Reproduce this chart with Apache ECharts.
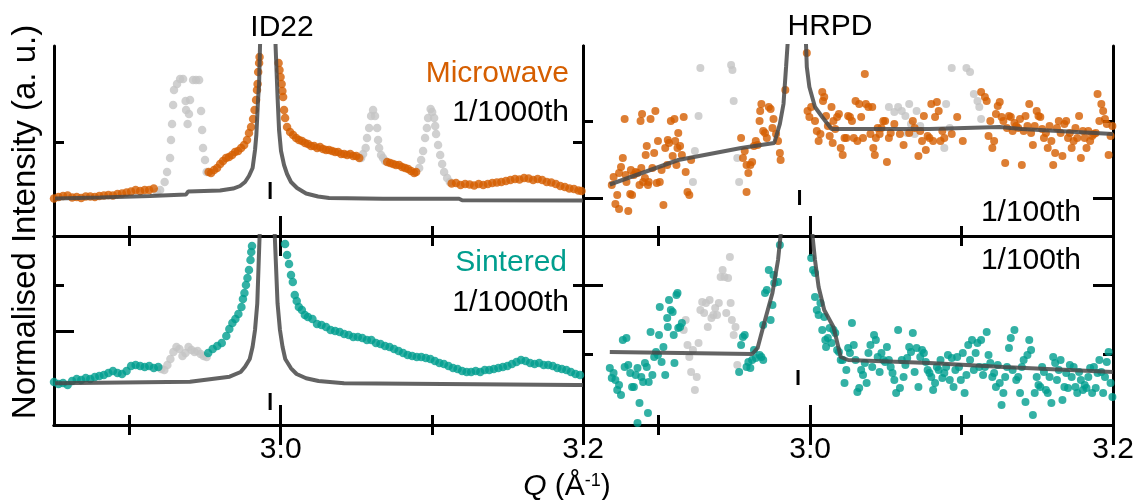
<!DOCTYPE html>
<html><head><meta charset="utf-8">
<script src="https://cdn.jsdelivr.net/npm/echarts@6/dist/echarts.min.js"></script>
<style>html,body{margin:0;padding:0;background:#fff}#c{width:1138px;height:500px}</style>
</head><body><div id="c"></div>
<script>
// ---------------- data ----------------
const Q_MIN = 2.85, Q_MAX = 3.2;
const xLabelTicks = [3.0, 3.2];
const xMajorTicks = [3.0, 3.2];
const xMinorTicks = [2.9, 3.1];

// ID22 – Microwave (top-left)
const mwID22 = [[2.850,3.75],[2.853,3.9],[2.856,4.0],[2.859,4.05],[2.862,3.85],[2.865,3.9],[2.868,3.8],[2.871,3.95],[2.874,3.95],[2.877,3.9],[2.880,4.0],[2.883,4.05],[2.886,4.1],[2.889,4.05],[2.892,4.2],[2.895,4.25],[2.898,4.35],[2.901,4.45],[2.904,4.6],[2.907,4.5],[2.910,4.6],[2.913,4.6],[2.916,4.75],
[2.9523,6.4],[2.9539,6.3],[2.9559,6.6],[2.9579,6.8],[2.9599,7.2],[2.9618,7.5],[2.9638,7.8],[2.9658,7.9],[2.9678,8.1],[2.9698,8.4],[2.9718,8.5],[2.9738,8.8],[2.9758,9.1],[2.9777,9.6],[2.979,10.3],[2.9804,10.9],[2.9817,11.7],[2.9827,12.6],[2.9837,13.6],[2.9843,14.6],[2.9847,15.2],[2.9851,16.4],[2.9857,17.3],[2.986,17.9],
[2.9986,17.3],[2.9992,16.6],[2.9999,15.9],[3.0006,15.2],[3.0011,14.5],[3.0016,13.9],[3.0022,12.6],[3.0029,11.8],[3.0042,10.9],[3.0062,10.4],[3.0082,10.1],[3.0102,9.8],[3.0121,9.6],[3.0141,9.5],[3.0161,9.3],[3.0181,9.2],[3.0201,9.0],[3.0221,9.0],[3.0241,8.8],[3.026,8.9],[3.028,8.7],[3.03,8.6],[3.032,8.6],[3.034,8.5],[3.036,8.4],[3.038,8.4],[3.04,8.2],[3.042,8.2],[3.044,8.1],[3.046,8.2],[3.048,8.0],[3.05,8.0],[3.052,7.8],
[3.0704,7.4],[3.0724,7.3],[3.0744,7.2],[3.0763,7.1],[3.0783,7.1],[3.0803,6.9],[3.0823,6.8],[3.0843,6.7],[3.0863,6.5],[3.0883,6.3],[3.0896,6.4],
[3.1131,5.25],[3.116,5.3],[3.119,5.1],[3.122,5.2],[3.125,5.15],[3.128,5.05],[3.131,5.2],[3.134,5.1],[3.137,5.2],[3.14,5.3],[3.143,5.35],[3.146,5.4],[3.149,5.5],[3.152,5.6],[3.155,5.7],[3.158,5.65],[3.161,5.8],[3.164,5.75],[3.167,5.6],[3.17,5.7],[3.173,5.6],[3.176,5.4],[3.179,5.35],[3.182,5.2],[3.185,5.0],[3.188,4.9],[3.191,4.75],[3.194,4.7],[3.197,4.55],[3.199,4.5]];
const mwID22Excl = [[2.9182,4.4],[2.9202,4.6],[2.9232,5.4],[2.9248,6.4],[2.9268,7.8],[2.9274,9.6],[2.9281,11.2],[2.9288,13.1],[2.9294,14.6],[2.9314,15.2],[2.9334,15.7],[2.9354,15.7],[2.9371,13.5],[2.9374,12.6],[2.9384,11.2],[2.9393,12.2],[2.94,13.6],[2.942,15.6],[2.944,15.6],[2.946,15.6],[2.9473,12.5],[2.948,10.6],[2.9486,8.8],[2.9499,7.6],[2.951,6.4],
[3.0532,7.8],[3.0545,8.2],[3.0562,8.8],[3.0571,9.8],[3.0585,10.8],[3.0598,12.0],[3.0611,12.6],[3.0624,12.0],[3.0638,10.8],[3.0644,9.6],[3.0651,8.8],[3.0664,8.1],[3.0677,7.8],[3.069,7.5],
[3.0916,6.8],[3.0929,7.6],[3.0942,8.5],[3.0955,9.8],[3.0967,10.8],[3.0975,11.8],[3.0992,12.7],[3.1002,12.4],[3.1015,11.8],[3.1022,11.0],[3.1028,10.2],[3.1041,9.1],[3.1055,8.1],[3.1068,7.2],[3.1081,6.4],[3.1101,5.8],[3.1119,5.4]];
const mwID22Fit = [[2.8507,3.75],[2.8804,3.85],[2.9135,4.0],[2.9374,4.15],[2.9387,4.45],[2.9599,4.55],[2.9685,4.74],[2.9731,5.0],[2.9764,5.4],[2.979,6.0],[2.9814,6.8],[2.983,8.6],[2.9839,10.15],[2.985,13.6],[2.9857,15.2],[2.9863,19],[2.987,21.6],[2.9963,21.6],[2.9966,19],[2.998,13.6],[2.9989,10.6],[3.0002,8.5],[3.0022,7.1],[3.0042,6.2],[3.0068,5.4],[3.0108,4.8],[3.0168,4.25],[3.0247,3.95],[3.032,3.8],[3.0677,3.72],[3.118,3.72],[3.12,3.57],[3.2,3.55]];
const mwID22Bragg = [[2.993,3.7],[2.993,5.4]];

// HRPD – Microwave (top-right)
const mwHRPD = [[2.869,5.1],[2.8702,5.9],[2.8714,3.2],[2.8726,4.1],[2.8738,6.3],[2.8738,2.7],[2.8751,6.9],[2.8763,7.8],[2.8775,11.7],[2.8782,6.1],[2.8787,5.4],[2.8799,2.5],[2.8812,4.2],[2.8816,6.6],[2.8824,4.1],[2.8836,6.1],[2.8848,6.4],[2.886,6.3],[2.8873,5.1],[2.888,11.5],[2.8885,6.8],[2.889,12.2],[2.8897,5.4],[2.8909,5.8],[2.8914,8.1],[2.8921,9.0],[2.8929,5.1],[2.8934,5.4],[2.8946,11.7],[2.8958,6.8],[2.897,8.3],[2.8978,12.5],[2.8987,5.3],[2.8995,9.5],[2.9007,5.4],[2.9019,6.6],[2.9031,3.1],[2.9043,8.8],[2.9056,7.1],[2.906,9.6],[2.9068,9.3],[2.908,11.5],[2.9092,8.0],[2.9104,11.7],[2.9109,9.5],[2.9117,7.1],[2.9124,8.8],[2.9129,10.3],[2.9141,9.0],[2.9153,8.1],[2.9165,11.9],[2.9178,6.4],[2.919,4.4],[2.9202,4.1],[2.9214,7.6],
[2.9544,9.8],[2.9556,7.8],[2.9568,8.5],[2.958,7.1],[2.958,4.4],[2.9592,6.3],[2.9605,7.1],[2.9617,7.4],[2.9629,9.0],[2.9641,9.5],[2.9653,9.1],[2.9666,11.5],[2.967,12.5],[2.9678,13.2],[2.969,10.5],[2.9702,10.3],[2.9714,9.8],[2.9727,12.9],[2.9739,12.7],[2.9751,10.8],[2.9758,11.7],[2.9775,10.2],[2.9788,9.5],[2.98,8.3],[2.9805,7.6],[2.9836,14.6],
[2.9978,18.3],[2.9983,12.5],[2.9995,11.9],[3.0007,12.9],[3.0032,11.5],[3.0044,10.5],[3.0056,9.5],[3.0068,10.2],[3.008,14.4],[3.0085,13.5],[3.0093,13.9],[3.0105,12.0],[3.0117,11.0],[3.0129,10.0],[3.0141,12.9],[3.0149,9.3],[3.0154,11.5],[3.0166,10.7],[3.0178,11.9],[3.019,12.2],[3.0202,8.8],[3.0215,8.1],[3.0227,9.8],[3.0239,9.8],[3.0251,12.0],[3.0263,11.9],[3.0276,11.5],[3.0288,9.8],[3.03,13.5],[3.0312,9.5],[3.0324,13.2],[3.0337,11.9],[3.0349,9.8],[3.0361,16.2],[3.0368,13.2],[3.0385,12.9],[3.0398,10.2],[3.041,12.9],[3.0417,8.8],[3.0427,8.1],[3.0434,9.8],[3.0446,10.8],[3.0459,10.2],[3.0471,10.8],[3.0483,11.5],[3.0495,11.5],[3.0507,7.4],[3.052,9.8],[3.0532,10.3],[3.0556,11.2],[3.0593,10.2],[3.0617,9.1],[3.0654,10.3],[3.0678,11.5],
[3.069,10.8],[3.0715,8.0],[3.0727,10.5],[3.0739,9.5],[3.0751,12.0],[3.0764,8.6],[3.0776,10.0],[3.0788,9.8],[3.08,13.2],[3.0812,9.5],[3.0825,11.9],[3.0837,13.4],[3.0849,12.5],[3.0861,9.5],[3.0873,10.5],[3.0886,9.8],[3.0935,10.2],[3.0971,11.9],[3.1008,9.5],
[3.1129,14.4],[3.1154,13.9],[3.1166,13.5],[3.1178,10.0],[3.119,11.5],[3.1203,8.8],[3.1215,9.5],[3.1227,12.2],[3.1239,13.0],[3.1252,13.4],[3.1264,11.9],[3.1276,11.5],[3.1288,7.3],[3.13,10.8],[3.1313,12.0],[3.1325,11.9],[3.1337,10.5],[3.1349,11.3],[3.1361,11.0],[3.1374,10.8],[3.1386,11.7],[3.1398,7.1],[3.141,10.5],[3.1422,12.0],[3.1435,11.0],[3.1447,13.2],[3.1459,10.3],[3.1471,9.1],[3.1483,11.0],[3.1496,12.5],[3.1508,12.0],[3.152,11.9],[3.1532,10.7],[3.1544,9.8],[3.1557,10.3],[3.1569,8.8],[3.1581,11.0],[3.1593,9.5],[3.1605,7.1],[3.1618,8.3],[3.163,10.8],[3.1642,11.5],[3.1654,10.3],[3.1666,8.0],[3.1679,11.2],[3.1691,11.5],[3.1703,9.8],[3.1715,10.3],[3.1727,8.8],[3.174,9.5],[3.1752,10.8],[3.1764,9.8],[3.1776,12.0],[3.1788,7.8],[3.1801,10.5],[3.1813,9.8],[3.1825,8.8],[3.1837,10.5],[3.1849,9.5],[3.1862,10.0],[3.1874,10.2],[3.1886,10.3],[3.1898,14.2],[3.191,11.5],[3.1923,13.2],[3.1935,12.5],[3.1947,11.7],[3.1959,11.2],[3.1971,8.1],[3.1984,10.0],[3.1996,11.0]];
const mwHRPDExcl = [[2.9226,5.4],[2.9239,8.5],[2.9263,12.0],[2.9275,16.8],[2.9478,17.1],[2.9487,16.6],[2.9495,13.5],[2.9519,7.8],[2.9531,5.4],[3.052,12.9],[3.0556,12.4],[3.0581,12.9],[3.0605,12.5],[3.0629,12.0],[3.0641,10.3],[3.0654,13.2],[3.0666,11.2],[3.069,10.2],[3.0703,12.5],[3.0727,11.0],[3.0886,8.8],[3.0898,13.2],[3.0922,10.8],[3.0935,16.8],[3.1032,16.8],[3.1056,16.4],[3.1081,14.2],[3.1105,13.5],[3.1117,12.9],[3.1129,11.7]];
const mwHRPDFit = [[2.8677,5.15],[2.9129,7.6],[2.9544,8.8],[2.9763,9.3],[2.98,11.2],[2.9824,13.2],[2.9841,16.9],[2.9856,20.3],[2.997,20.3],[2.9978,16.9],[2.9995,14.9],[3.0032,12.9],[3.008,11.9],[3.0141,10.7],[3.03,10.7],[3.0788,10.7],[3.1252,10.9],[3.1398,10.7],[3.2,10.2]];
const mwHRPDBragg = [[2.993,3.1],[2.993,4.6]];

// ID22 – Sintered (bottom-left)
const siID22 = [[2.850,4.3],[2.853,4.1],[2.856,4.2],[2.859,4.0],[2.862,4.4],[2.865,4.6],[2.868,4.5],[2.871,4.7],[2.874,4.6],[2.877,4.8],[2.880,4.9],[2.883,5.0],[2.886,5.2],[2.889,5.4],[2.892,5.2],[2.895,5.1],[2.898,5.4],[2.901,5.9],[2.904,6.0],[2.907,5.9],[2.910,5.8],[2.913,5.9],[2.916,5.7],[2.919,5.8],
[2.952,7.2],[2.955,7.6],[2.958,7.9],[2.961,8.2],[2.964,8.9],[2.966,9.6],[2.968,10.2],[2.970,10.6],[2.972,11.1],[2.974,11.8],[2.975,12.6],[2.976,13.2],[2.977,14.0],[2.978,14.7],[2.979,15.5],[2.980,16.5],[2.9805,17.3],[2.981,17.9],
[3.0029,18.1],[3.0042,17.0],[3.0055,16.1],[3.0068,15.0],[3.008,14.3],[3.0093,13.0],[3.0106,12.4],[3.012,11.8],[3.014,11.5],[3.016,11.0],[3.018,10.8],[3.021,10.6],[3.024,10.1],[3.027,10.0],[3.030,9.8],[3.033,9.5],[3.036,9.4],[3.039,9.3],[3.042,9.1],[3.045,9.0],[3.048,8.8],[3.051,8.8],[3.054,8.7],[3.057,8.5],[3.060,8.5],[3.063,8.2],[3.066,8.1],[3.069,7.9],[3.072,7.8],[3.075,7.6],[3.078,7.4],[3.081,7.2],[3.084,7.0],[3.087,6.9],[3.090,6.8],[3.093,6.8],[3.096,6.7],[3.099,6.6],[3.102,6.4],[3.105,6.2],[3.108,6.1],[3.111,5.9],[3.114,5.7],[3.117,5.6],[3.120,5.4],[3.123,5.3],[3.126,5.3],[3.129,5.4],[3.132,5.3],[3.135,5.5],[3.138,5.5],[3.141,5.6],[3.144,5.7],[3.147,5.8],[3.150,5.9],[3.153,6.1],[3.156,6.3],[3.159,6.5],[3.162,6.4],[3.165,6.2],[3.168,6.1],[3.171,6.2],[3.174,6.0],[3.177,6.0],[3.180,5.9],[3.183,5.7],[3.186,5.6],[3.189,5.5],[3.192,5.3],[3.195,5.1],[3.198,5.0]];
const siID22Excl = [[2.921,5.6],[2.923,5.5],[2.925,6.0],[2.927,6.6],[2.929,7.3],[2.931,7.8],[2.933,7.6],[2.935,6.9],[2.937,7.2],[2.939,7.8],[2.941,7.5],[2.943,7.3],[2.945,7.4],[2.947,7.1],[2.949,6.9],[2.951,6.8]];
const siID22Fit = [[2.8507,4.17],[2.94,4.33],[2.9662,4.83],[2.9735,5.3],[2.9764,5.83],[2.9795,6.6],[2.9814,7.83],[2.983,9.5],[2.9845,12.17],[2.986,18.8],[2.9867,21],[2.9956,21],[2.9961,18.8],[2.9979,12.17],[2.9995,9.5],[3.0012,7.83],[3.003,6.6],[3.0068,5.67],[3.0105,5.1],[3.0168,4.67],[3.025,4.4],[3.0419,4.17],[3.1941,4.0],[3.2,4.0]];
const siID22Bragg = [[2.993,1.5],[2.993,3.2]];

// HRPD – Sintered (bottom-right)
const siHRPD = [[2.8677,5.7],[2.869,4.7],[2.8702,5.2],[2.8714,4.5],[2.8726,3.5],[2.8738,4.0],[2.8751,3.0],[2.8763,8.5],[2.8775,5.8],[2.8787,8.7],[2.8799,6.0],[2.8812,5.2],[2.8824,3.8],[2.8836,3.8],[2.8848,5.0],[2.886,5.7],[2.886,0.2],[2.8873,2.2],[2.8885,4.8],[2.8897,4.3],[2.8909,6.2],[2.8921,5.8],[2.8929,1.2],[2.8934,4.3],[2.8946,9.3],[2.8958,5.0],[2.897,6.8],[2.8982,7.3],[2.8995,7.0],[2.9002,9.0],[2.9007,11.8],[2.9019,6.3],[2.9031,7.8],[2.9043,5.0],[2.9056,10.7],[2.906,9.8],[2.9068,12.5],[2.908,11.5],[2.9092,11.3],[2.9099,9.0],[2.9104,6.2],[2.9117,13.0],[2.9124,13.2],[2.9129,9.7],[2.9141,9.8],[2.9153,10.2],
[2.9531,5.3],[2.9544,8.0],[2.9556,8.8],[2.9568,9.0],[2.958,5.8],[2.9592,6.3],[2.9605,5.7],[2.9617,6.5],[2.9629,7.5],[2.9641,6.7],[2.9666,7.0],[2.9678,6.8],[2.969,6.5],[2.969,10.0],[2.9702,13.2],[2.9714,13.5],[2.9727,15.5],[2.9739,10.5],[2.9751,12.0],[2.9758,15.0],[2.9763,14.2],[2.9788,14.3],[2.98,18.0],
[3.0007,16.7],[3.0019,15.5],[3.0032,15.2],[3.0032,12.8],[3.0044,11.5],[3.0056,11.0],[3.0068,12.2],[3.008,9.5],[3.0093,10.8],[3.01,8.5],[3.0105,7.8],[3.0117,8.7],[3.0129,9.7],[3.0141,8.2],[3.0154,9.5],[3.0166,9.2],[3.0178,7.5],[3.019,7.3],[3.0202,6.5],[3.0215,6.5],[3.0227,4.2],[3.0239,5.5],[3.0251,7.7],[3.0263,7.2],[3.0276,10.2],[3.0288,8.0],[3.03,6.5],[3.0312,3.3],[3.0324,3.7],[3.0337,5.5],[3.0349,5.0],[3.0361,6.2],[3.0373,4.2],[3.0385,7.2],[3.0398,8.0],[3.041,5.8],[3.0422,9.0],[3.0434,8.5],[3.0446,6.8],[3.0459,5.3],[3.0471,7.2],[3.0483,6.5],[3.0495,6.3],[3.0507,7.8],[3.052,6.5],[3.0532,5.8],[3.0544,5.2],[3.0556,4.5],[3.0568,3.2],[3.0581,9.5],[3.0593,3.7],[3.0605,6.5],[3.0617,4.8],[3.0629,6.0],[3.0641,6.7],[3.0654,7.8],[3.0666,7.3],[3.0678,9.2],[3.069,5.3],[3.0703,7.7],[3.0715,3.8],[3.0727,6.8],[3.0739,7.5],[3.0751,7.2],[3.0764,6.3],[3.0776,5.5],[3.0788,5.2],[3.08,4.8],[3.0812,3.5],[3.0825,4.2],[3.0837,5.8],[3.0849,5.5],[3.0861,6.5],[3.0873,4.7],[3.0886,5.2],[3.0898,5.8],[3.091,7.0],[3.0922,4.5],[3.0935,6.7],[3.0947,3.8],[3.0959,5.5],[3.0971,6.8],[3.0983,5.8],[3.0995,4.5],[3.1008,7.2],[3.102,3.2],[3.1032,5.0],[3.1044,8.0],[3.1056,6.5],[3.1069,8.5],[3.1081,5.5],[3.1093,7.2],[3.1105,8.2],[3.1117,5.8],[3.1129,8.5],[3.1142,5.0],[3.1154,5.8],[3.1166,9.3],[3.1178,7.0],[3.119,6.2],[3.1203,4.8],[3.1215,5.2],[3.1227,3.8],[3.1239,6.0],[3.1252,4.2],[3.1264,2.0],[3.1276,3.2],[3.1288,4.8],[3.13,5.8],[3.1313,7.7],[3.1325,8.7],[3.1337,5.5],[3.1349,9.5],[3.1361,4.5],[3.1374,4.8],[3.1386,3.2],[3.1398,5.8],[3.141,6.5],[3.1422,2.3],[3.1435,7.0],[3.1447,8.5],[3.1459,7.5],[3.1471,1.0],[3.1483,3.2],[3.1496,4.8],[3.1508,4.0],[3.152,3.8],[3.1532,5.8],[3.1544,5.3],[3.1557,3.5],[3.1569,3.2],[3.1581,4.8],[3.1593,2.2],[3.1605,6.8],[3.1618,6.2],[3.163,4.5],[3.1642,5.5],[3.1654,6.5],[3.1666,2.5],[3.1679,3.8],[3.1691,5.2],[3.1703,3.7],[3.1715,6.0],[3.1727,4.8],[3.174,5.8],[3.1752,3.8],[3.1764,3.2],[3.1776,5.3],[3.1788,4.5],[3.1801,3.5],[3.1813,4.0],[3.1825,3.7],[3.1837,4.8],[3.1849,5.7],[3.1862,3.2],[3.1874,5.8],[3.1886,3.7],[3.1898,5.2],[3.191,6.5],[3.1923,5.3],[3.1935,3.2],[3.1947,4.8],[3.1959,6.3],[3.1971,7.3],[3.1984,4.2],[3.1996,2.8]];
const siHRPDExcl = [[2.9165,9.5],[2.9178,10.5],[2.919,8.0],[2.9202,6.8],[2.9214,5.3],[2.9226,7.5],[2.9239,3.5],[2.9251,4.8],[2.9263,8.2],[2.9275,11.5],[2.9287,12.3],[2.93,11.2],[2.9312,12.2],[2.9324,9.8],[2.9336,12.5],[2.9348,10.7],[2.9361,11.0],[2.9373,11.7],[2.9385,11.0],[2.9397,12.2],[2.9409,14.8],[2.9422,15.5],[2.9434,14.8],[2.9446,11.2],[2.9458,14.7],[2.947,16.8],[2.9475,12.2],[2.9483,10.5],[2.9495,9.0],[2.9507,9.8],[2.9519,6.0]];
const siHRPDFit = [[2.8677,7.3],[2.9617,7.1],[2.9653,7.7],[2.9702,10.5],[2.9751,13.2],[2.9788,16.5],[2.9805,19.0],[2.9812,20.5],[3.0015,20.5],[3.0015,19.0],[3.0032,16.5],[3.0056,13.8],[3.0093,11.5],[3.0154,9.8],[3.0202,6.8],[3.0251,6.5],[3.0788,6.2],[3.1276,5.8],[3.2,5.3]];
const siHRPDBragg = [[2.992,4.0],[2.992,5.5]];

// ---------------- layout / style ----------------
const FONT = '"Liberation Sans", Arial, Helvetica, sans-serif';
const ORANGE = '#D55E00', TEAL = '#009E8E', GREY_PT = '#C4C4C4', FIT = 'rgba(72,72,72,0.85)';

const panels = [
  {left:54,  top:46,  width:529, height:190, ymax:19,   yMajor:[],     yMinor:[9.4],  labels:false,
   data:mwID22, excl:mwID22Excl, fit:mwID22Fit, bragg:mwID22Bragg, color:ORANGE, size:8.5},
  {left:583, top:46,  width:530, height:190, ymax:19,   yMajor:[3.8],  yMinor:[11.5], labels:false,
   data:mwHRPD, excl:mwHRPDExcl, fit:mwHRPDFit, bragg:mwHRPDBragg, color:ORANGE, size:8},
  {left:54,  top:236, width:529, height:189, ymax:18.9, yMajor:[9.4],  yMinor:[14.0], labels:true,
   data:siID22, excl:siID22Excl, fit:siID22Fit, bragg:siID22Bragg, color:TEAL, size:8.5},
  {left:583, top:236, width:530, height:189, ymax:18.9, yMajor:[14.0], yMinor:[7.1],  labels:true,
   data:siHRPD, excl:siHRPDExcl, fit:siHRPDFit, bragg:siHRPDBragg, color:TEAL, size:8}
];

const grid = [], xAxis = [], yAxis = [], series = [];
const lineSt = {color:'#000', width:3};
panels.forEach((p, i) => {
  grid.push({left:p.left, top:p.top, width:p.width, height:p.height, containLabel:false});
  const xi = xAxis.length, yi = yAxis.length;
  [['bottom',true],['bottom',false],['top',true],['top',false]].forEach(([pos, major]) => {
    xAxis.push({type:'value', gridIndex:i, position:pos, min:Q_MIN, max:Q_MAX,
      axisLine:{show:major, lineStyle:lineSt},
      axisTick:{show:true, inside:true, length: major?20:10, lineStyle:lineSt, customValues: major?xMajorTicks:xMinorTicks},
      axisLabel:{show: p.labels && pos==='bottom' && major, customValues:xLabelTicks,
        formatter: v => Number(v).toFixed(1), fontSize:30, fontFamily:FONT, color:'#000', margin:10},
      splitLine:{show:false}});
  });
  [['left',true],['left',false],['right',true],['right',false]].forEach(([pos, major]) => {
    const vals = major ? p.yMajor : p.yMinor;
    yAxis.push({type:'value', gridIndex:i, position:pos, min:0, max:p.ymax,
      axisLine:{show:major, lineStyle:lineSt},
      axisTick:{show:vals.length>0, inside:true, length: major?20:10, lineStyle:lineSt, customValues: vals.length?vals:[p.ymax]},
      axisLabel:{show:false}, splitLine:{show:false}});
  });
  series.push({type:'scatter', xAxisIndex:xi, yAxisIndex:yi, data:p.excl, symbolSize:p.size,
    itemStyle:{color:GREY_PT}, silent:true, z:2});
  series.push({type:'scatter', xAxisIndex:xi, yAxisIndex:yi, data:p.data, symbolSize:p.size,
    itemStyle:{color:p.color}, silent:true, z:3});
  series.push({type:'line', xAxisIndex:xi, yAxisIndex:yi, data:p.fit, showSymbol:false, smooth:false,
    lineStyle:{color:FIT, width:4}, silent:true, z:4, clip:true});
  series.push({type:'line', xAxisIndex:xi, yAxisIndex:yi, data:p.bragg, showSymbol:false,
    lineStyle:{color:'#000', width:3}, silent:true, z:4});
});

const txt = (x, y, text, opts) => ({type:'text', x, y, silent:true, z:100,
  style:Object.assign({text, fontSize:30, fontFamily:FONT, fill:'#000', align:'right', verticalAlign:'middle'}, opts||{})});

const graphic = [
  txt(282, 28, 'ID22', {align:'center'}),
  txt(830, 27, 'HRPD', {align:'center'}),
  txt(569, 74, 'Microwave', {fill:ORANGE}),
  txt(569, 113, '1/1000th'),
  txt(567, 263, 'Sintered', {fill:TEAL}),
  txt(569, 303, '1/1000th'),
  txt(1081, 213, '1/100th'),
  txt(1081, 261, '1/100th'),
  Object.assign(txt(26, 222, 'Normalised Intensity (a. u.)', {align:'center', fontSize:33}), {rotation: Math.PI/2}),
  txt(567, 487, '{q|Q} (Å{s|-1})', {align:'center',
    rich:{q:{fontStyle:'italic', fontSize:30, fontFamily:FONT, fill:'#000'},
          s:{fontSize:18, fontFamily:FONT, verticalAlign:'top', fill:'#000'}}})
];

const chart = echarts.init(document.getElementById('c'), null, {renderer:'canvas'});
chart.setOption({animation:false, backgroundColor:'#fff', grid, xAxis, yAxis, series, graphic});
</script></body></html>
